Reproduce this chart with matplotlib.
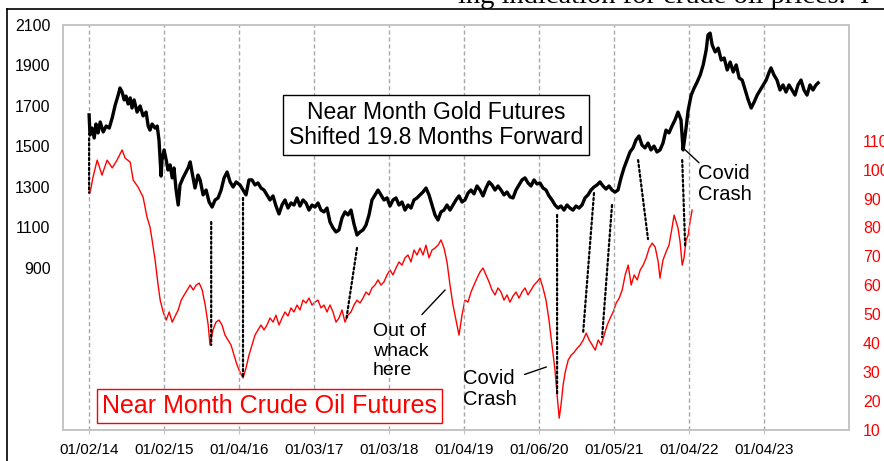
import matplotlib
matplotlib.use("Agg")
import matplotlib.pyplot as plt
from matplotlib.lines import Line2D
from matplotlib.patches import ConnectionPatch

plt.rcParams['font.family'] = ['Liberation Sans', 'DejaVu Sans']

# ---- x axis: trading-day index, labelled every 250 days ----
tick_days = [0, 250, 500, 750, 1000, 1250, 1500, 1750, 2000, 2250]
tick_labels = ["01/02/14", "01/02/15", "01/04/16", "01/03/17", "01/03/18",
               "01/04/19", "01/06/20", "01/05/21", "01/04/22", "01/04/23"]

# ---- Near month gold futures (shifted 19.8 months forward), $/oz ----
gold_day = [0, 3, 10, 17, 23, 30, 37, 47, 57, 67, 77, 87, 97, 103, 110, 117, 123, 130, 137, 143,
            150, 160, 170, 180, 190, 197, 203, 210, 220, 227, 233, 240, 243, 250, 257, 263, 270, 277, 283, 290,
            297, 303, 313, 323, 330, 337, 343, 353, 363, 370, 380, 390, 400, 410, 420, 430, 440, 450, 460, 470,
            480, 490, 503, 513, 523, 533, 543, 553, 563, 573, 583, 593, 603, 613, 623, 633, 643, 653, 663, 673,
            683, 693, 703, 713, 723, 733, 743, 753, 763, 773, 783, 793, 803, 813, 823, 833, 843, 853, 863, 873,
            883, 893, 903, 913, 923, 933, 943, 953, 963, 973, 983, 993, 1003, 1013, 1023, 1033, 1043, 1053, 1063, 1073,
            1083, 1093, 1103, 1113, 1123, 1133, 1143, 1153, 1163, 1173, 1183, 1193, 1203, 1213, 1223, 1233, 1243, 1253, 1263, 1273,
            1283, 1293, 1303, 1313, 1323, 1333, 1343, 1353, 1363, 1373, 1383, 1393, 1403, 1413, 1423, 1433, 1443, 1453, 1463, 1473,
            1483, 1493, 1503, 1513, 1523, 1533, 1543, 1553, 1563, 1573, 1583, 1593, 1603, 1613, 1623, 1633, 1643, 1653, 1663, 1673,
            1683, 1693, 1703, 1713, 1723, 1733, 1743, 1753, 1763, 1773, 1783, 1793, 1803, 1813, 1823, 1833, 1843, 1853, 1863, 1873,
            1883, 1893, 1903, 1913, 1923, 1933, 1943, 1953, 1963, 1973, 1980, 1987, 1997, 2007, 2017, 2027, 2037, 2047, 2057, 2063,
            2070, 2077, 2087, 2097, 2107, 2117, 2127, 2137, 2147, 2157, 2167, 2177, 2187, 2197, 2207, 2217, 2227, 2237, 2247, 2257,
            2267, 2273, 2283, 2293, 2303, 2313, 2323, 2333, 2343, 2353, 2363, 2373, 2383, 2393, 2403, 2413, 2423, 2430]
gold_price = [1656, 1557, 1591, 1542, 1611, 1567, 1621, 1572, 1601, 1591, 1641, 1705, 1754, 1789, 1769, 1730, 1749, 1710, 1740, 1690,
              1730, 1670, 1700, 1651, 1670, 1601, 1581, 1611, 1591, 1601, 1532, 1354, 1433, 1483, 1433, 1384, 1409, 1345, 1394, 1285,
              1211, 1310, 1345, 1374, 1394, 1424, 1374, 1295, 1359, 1335, 1261, 1285, 1226, 1201, 1236, 1246, 1285, 1345, 1374, 1325,
              1300, 1325, 1310, 1285, 1261, 1335, 1335, 1310, 1320, 1295, 1285, 1261, 1236, 1256, 1206, 1167, 1211, 1236, 1196, 1221,
              1211, 1246, 1206, 1236, 1221, 1186, 1211, 1201, 1221, 1186, 1177, 1196, 1127, 1098, 1078, 1088, 1147, 1177, 1162, 1186,
              1117, 1063, 1078, 1088, 1112, 1162, 1236, 1261, 1285, 1261, 1236, 1246, 1206, 1236, 1246, 1211, 1226, 1186, 1211, 1196,
              1236, 1246, 1261, 1275, 1295, 1261, 1211, 1162, 1137, 1177, 1186, 1211, 1186, 1211, 1236, 1256, 1226, 1236, 1270, 1285,
              1266, 1305, 1285, 1256, 1295, 1325, 1310, 1285, 1305, 1285, 1261, 1275, 1251, 1246, 1285, 1310, 1335, 1345, 1320, 1305,
              1335, 1315, 1320, 1295, 1285, 1256, 1236, 1211, 1196, 1206, 1186, 1211, 1196, 1186, 1206, 1196, 1211, 1246, 1261, 1285,
              1300, 1310, 1325, 1305, 1290, 1305, 1285, 1275, 1285, 1345, 1394, 1433, 1473, 1493, 1532, 1552, 1507, 1493, 1517, 1483,
              1502, 1473, 1483, 1517, 1581, 1567, 1601, 1631, 1670, 1631, 1483, 1557, 1680, 1754, 1789, 1819, 1853, 1903, 1977, 2051,
              2060, 2001, 1967, 1986, 1927, 1937, 1878, 1917, 1868, 1903, 1838, 1828, 1779, 1730, 1690, 1720, 1754, 1779, 1804, 1828,
              1868, 1888, 1853, 1828, 1779, 1804, 1769, 1804, 1779, 1754, 1804, 1828, 1779, 1754, 1804, 1779, 1804, 1814]

# ---- Near month crude oil futures, $/bbl ----
oil_day = [0, 3, 13, 27, 43, 60, 77, 93, 110, 120, 137, 147, 163, 180, 193, 203, 210, 220, 230, 237,
           247, 257, 267, 277, 287, 297, 307, 317, 327, 337, 347, 357, 367, 377, 387, 397, 403, 413, 423, 433,
           443, 453, 463, 473, 483, 493, 503, 513, 523, 533, 543, 553, 563, 573, 583, 593, 603, 613, 623, 633,
           643, 653, 663, 673, 683, 693, 703, 713, 723, 733, 743, 753, 763, 773, 783, 793, 803, 813, 823, 833,
           843, 853, 863, 873, 883, 893, 903, 913, 923, 933, 943, 953, 963, 973, 983, 993, 1003, 1013, 1023, 1033,
           1043, 1053, 1063, 1073, 1083, 1093, 1103, 1113, 1123, 1133, 1143, 1153, 1163, 1173, 1183, 1193, 1203, 1213, 1223, 1233,
           1243, 1253, 1263, 1273, 1283, 1293, 1303, 1313, 1323, 1333, 1343, 1353, 1363, 1373, 1383, 1393, 1403, 1413, 1423, 1433,
           1443, 1453, 1463, 1473, 1483, 1493, 1503, 1513, 1523, 1533, 1543, 1553, 1560, 1567, 1573, 1580, 1587, 1597, 1607, 1617,
           1627, 1637, 1647, 1657, 1667, 1677, 1687, 1697, 1707, 1717, 1727, 1737, 1747, 1757, 1767, 1777, 1787, 1797, 1807, 1817,
           1827, 1837, 1847, 1857, 1867, 1877, 1887, 1897, 1903, 1913, 1923, 1933, 1943, 1950, 1957, 1963, 1970, 1977, 1983, 1990,
           1997, 2003, 2010]
oil_price = [94.0, 91.9, 97.4, 103.3, 98.1, 103.3, 100.6, 103.3, 106.8, 104.0, 102.6, 96.4, 94.0, 90.5, 83.6, 80.2, 75.7, 68.8, 60.1, 54.9,
             50.8, 48.0, 50.8, 47.3, 49.4, 51.5, 54.9, 56.7, 58.4, 60.1, 58.4, 60.1, 60.8, 58.4, 53.2, 46.3, 39.4, 44.6, 47.3, 48.0,
             46.3, 42.8, 41.1, 39.4, 35.9, 32.5, 30.0, 28.0, 31.4, 35.9, 39.4, 42.8, 44.6, 46.3, 44.6, 46.3, 48.7, 47.3, 49.7, 46.3,
             48.7, 50.8, 49.4, 52.2, 50.8, 53.2, 51.5, 54.9, 53.9, 55.6, 53.2, 54.2, 54.9, 52.2, 53.2, 50.8, 53.2, 50.8, 47.3, 48.7,
             51.5, 47.3, 49.7, 50.8, 53.2, 54.9, 53.9, 55.6, 57.7, 56.7, 59.1, 60.1, 61.9, 60.1, 61.2, 63.6, 65.3, 63.6, 66.0, 68.1,
             67.0, 69.5, 70.5, 68.1, 72.2, 70.5, 72.9, 70.5, 73.9, 69.5, 72.2, 72.9, 73.9, 75.7, 72.9, 68.1, 60.1, 53.2, 48.0, 42.8,
             49.7, 54.9, 54.2, 57.7, 60.1, 62.5, 64.6, 66.0, 63.6, 61.2, 58.4, 56.7, 59.1, 57.7, 54.9, 56.7, 54.2, 56.3, 57.7, 55.6,
             57.7, 59.1, 56.7, 58.4, 60.1, 61.2, 62.5, 59.1, 54.9, 48.0, 39.4, 30.7, 22.1, 14.1, 18.6, 25.5, 30.0, 34.2, 35.9, 36.9,
             38.3, 39.4, 41.1, 43.5, 41.1, 39.4, 37.6, 41.1, 39.4, 42.8, 46.3, 48.7, 50.8, 53.9, 55.6, 58.4, 63.6, 67.0, 60.1, 63.6,
             61.9, 65.3, 67.0, 69.5, 72.9, 74.6, 73.2, 68.1, 62.5, 68.8, 71.5, 73.9, 79.8, 84.3, 81.9, 79.8, 75.0, 67.0, 69.5, 75.7,
             77.4, 81.9, 86.0]

# ---- dotted links: (gold day, gold price) -> (oil day, oil price) ----
link_gold_day = [0, 407, 513, 893, 1560, 1683, 1743, 1830, 1977]
link_gold_val = [1540, 1127, 1246, 999, 1162, 1270, 1211, 1433, 1433]
link_oil_day = [0, 407, 513, 857, 1560, 1647, 1710, 1863, 1987]
link_oil_val = [92.0, 39.4, 28.0, 48.0, 22.0, 43.9, 42.1, 76.0, 73.2]

W, H = 884, 461
fig = plt.figure(figsize=(W / 100, H / 100), dpi=100)
ax = fig.add_axes([63 / W, 1 - 430 / H, (849 - 63) / W, (430 - 25) / H])
ax2 = ax.twinx()

frame_col = "#c4c4c4"
for a in (ax, ax2):
    for s in a.spines.values():
        s.set_color(frame_col)
        s.set_linewidth(1.2)

ax.set_xlim(-87, 2533)
ax.set_ylim(100, 2100)
ax2.set_ylim(10, 150)

ax.set_xticks(tick_days)
ax.set_xticklabels(tick_labels)
ax.set_yticks([900, 1100, 1300, 1500, 1700, 1900, 2100])
ax2.set_yticks([10, 20, 30, 40, 50, 60, 70, 80, 90, 100, 110])
ax.tick_params(axis='x', length=3, color=frame_col, pad=6, labelsize=11)
ax.tick_params(axis='y', length=0, pad=9, labelsize=11.5)
ax2.tick_params(axis='y', length=0, pad=10, labelsize=11.5, labelcolor='#ff0000')

for d in tick_days:
    ax.axvline(d, color='#a8a8a8', lw=1, ls=(0, (3, 2)), zorder=0)

ax2.plot(oil_day, oil_price, color='#ff0000', lw=1.0, zorder=3)
ax.plot(gold_day, gold_price, color='black', lw=2.4, zorder=3)
ax.set_zorder(ax2.get_zorder() + 1)
ax.patch.set_visible(False)

for gd, gv, od, ov in zip(link_gold_day, link_gold_val, link_oil_day, link_oil_val):
    cp = ConnectionPatch(xyA=(gd, gv), coordsA=ax.transData, xyB=(od, ov), coordsB=ax2.transData,
                         color='black', lw=1.6, ls=(0, (1, 1.2)), zorder=4)
    ax.add_artist(cp)

ax.text(0.4746, 0.753, "Near Month Gold Futures\nShifted 19.8 Months Forward",
        transform=ax.transAxes, ha='center', va='center', fontsize=16.5, linespacing=1.15,
        bbox=dict(boxstyle='square,pad=0.25', fc='white', ec='black', lw=1), zorder=6)
ax.text(0.2621, 0.0593, "Near Month Crude Oil Futures", transform=ax.transAxes,
        ha='center', va='center', fontsize=18, color='#ff0000',
        bbox=dict(boxstyle='square,pad=0.2', fc='white', ec='#ff0000', lw=1), zorder=6)
ax.text(0.3944, 0.195, "Out of\nwhack\nhere", transform=ax.transAxes, ha='left', va='center',
        fontsize=14, linespacing=1.2, zorder=6)
ax.text(0.5089, 0.101, "Covid\nCrash", transform=ax.transAxes, ha='left', va='center',
        fontsize=14.5, linespacing=1.1, zorder=6)
ax.text(0.8079, 0.6074, "Covid\nCrash", transform=ax.transAxes, ha='left', va='center',
        fontsize=14.5, linespacing=1.1, zorder=6)

# short pointer lines from the labels
ax2.annotate("", xy=(1193, 59.1), xytext=(1103, 49.2),
             arrowprops=dict(arrowstyle='-', color='black', lw=1))
ax2.annotate("", xy=(1533, 32.1), xytext=(1443, 28.9),
             arrowprops=dict(arrowstyle='-', color='black', lw=1))
ax.annotate("", xy=(1975, 1500), xytext=(2040, 1410),
            arrowprops=dict(arrowstyle='-', color='black', lw=1))

# page frame and cut-off page text
fig.add_artist(Line2D([7 / W, 7 / W], [0, 1 - 9 / H], color='black', lw=1.2))
fig.add_artist(Line2D([7 / W, 1], [1 - 9 / H, 1 - 9 / H], color='black', lw=1.2))
fig.text(458 / W, 1 - 3 / H, "ing indication for crude oil prices.  I", family='Liberation Serif',
         fontsize=20.5, ha='left', va='baseline')

fig.savefig("out.png", dpi=100)
